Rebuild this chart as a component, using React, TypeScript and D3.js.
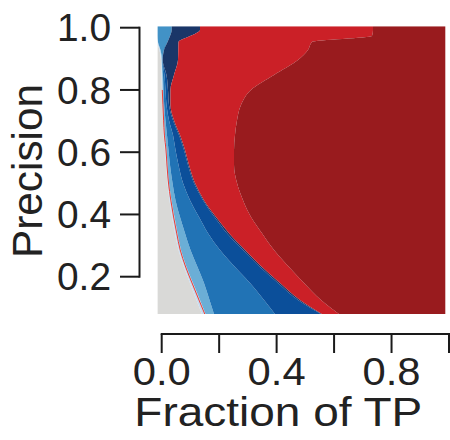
import React from 'react';
import * as d3 from 'd3';

// Precision levels (y) at which the contour boundaries were read
const precision = [1.005, 0.993, 0.973, 0.954, 0.928, 0.896, 0.848, 0.8, 0.752, 0.703, 0.655, 0.607, 0.559, 0.501, 0.446, 0.392, 0.34, 0.286, 0.231, 0.18, 0.125, 0.08];

// Boundary x (fraction of TP) of each filled contour band, left to right
const grayEdge = [-0.015, -0.015, -0.015, -0.015, -0.0077, -0.0024, -0.0007, 0.001, 0.0028, 0.0045, 0.0063, 0.0115, 0.015, 0.0202, 0.0271, 0.0359, 0.0463, 0.0585, 0.0776, 0.0985, 0.1211, 0.1403];
const paleEdge = [-0.015, -0.015, -0.015, -0.0129, -0.0042, 0, 0.0021, 0.0035, 0.0052, 0.008, 0.0115, 0.0167, 0.0202, 0.0254, 0.0341, 0.0446, 0.055, 0.0672, 0.0863, 0.1089, 0.1333, 0.1525];
const lightEdge = [-0.015, -0.015, -0.015, -0.0129, -0.0042, 0.0021, 0.0045, 0.0063, 0.0087, 0.0132, 0.0184, 0.0237, 0.0289, 0.0376, 0.048, 0.0637, 0.0811, 0.1002, 0.1246, 0.1472, 0.1664, 0.182];
const skyEdge = [0.0348, 0.0348, 0.0289, 0.0202, 0.008, 0.0021, 0.0045, 0.0063, 0.0087, 0.0132, 0.0184, 0.0237, 0.0289, 0.0376, 0.048, 0.0637, 0.0811, 0.1002, 0.1246, 0.1472, 0.1664, 0.182];
const mediumEdge = [0.0348, 0.0348, 0.0289, 0.0202, 0.008, 0.0028, 0.0097, 0.0132, 0.0167, 0.0254, 0.0393, 0.048, 0.0585, 0.0741, 0.0985, 0.1298, 0.1612, 0.2029, 0.2551, 0.3073, 0.356, 0.3944];
const darkEdge = [0.0348, 0.0348, 0.0289, 0.0202, 0.008, 0.0035, 0.0167, 0.0219, 0.0254, 0.0393, 0.0602, 0.0776, 0.0915, 0.1124, 0.1438, 0.1838, 0.2273, 0.283, 0.3421, 0.4048, 0.4744, 0.5545];
const navyEdge = [0.1333, 0.1333, 0.0985, 0.0585, 0.0578, 0.0567, 0.0428, 0.0306, 0.0306, 0.0428, 0.0637, 0.0811, 0.095, 0.1159, 0.1472, 0.189, 0.2343, 0.29, 0.3491, 0.4118, 0.4814, 0.558];
const redEdge = [0.7355, 0.7355, 0.732, 0.5231, 0.5092, 0.4744, 0.3909, 0.3108, 0.276, 0.2621, 0.2551, 0.2517, 0.2517, 0.2621, 0.283, 0.3108, 0.3491, 0.3909, 0.4431, 0.4953, 0.5545, 0.6172];

// Thin red contour line
const redLinePrecision = [0.8, 0.752, 0.703, 0.655, 0.607, 0.559, 0.501, 0.446, 0.392, 0.34, 0.286, 0.231, 0.18, 0.125, 0.08];
const redLineFraction = [0.0021, 0.0042, 0.0066, 0.0094, 0.015, 0.0184, 0.0237, 0.0317, 0.0414, 0.0522, 0.0644, 0.0835, 0.1055, 0.1298, 0.15];

const bandColors = ['#d9d9d7', '#c6dbef', '#6baed6', '#4292c6', '#2173b5', '#0b4f9a', '#1a3668', '#cb2027', '#991b1e'];

const xTicks = [0, 0.2, 0.4, 0.6, 0.8, 1.0];
const xTickLabels = ['0.0', '', '0.4', '', '0.8', ''];
const yTicks = [0.2, 0.4, 0.6, 0.8, 1.0];
const yTickLabels = ['0.2', '0.4', '0.6', '0.8', '1.0'];

const X_MIN = -0.015;
const X_MAX = 0.988;
const Y_MIN = 0.08;
const Y_MAX = 1.005;

export default function App() {
  const x = d3.scaleLinear().domain([0, 1]).range([161.7, 449]);
  const y = d3.scaleLinear().domain([0.2, 1]).range([276.7, 27.7]);

  const leftCol = precision.map(() => X_MIN);
  const rightCol = precision.map(() => X_MAX);
  const edges = [leftCol, grayEdge, paleEdge, lightEdge, skyEdge, mediumEdge, darkEdge, navyEdge, redEdge, rightCol];

  const idx = precision.map((_, i) => i);
  const bands = bandColors.map((c, k) => {
    const L = edges[k];
    const R = edges[k + 1];
    const gen = d3
      .area<number>()
      .y((i) => y(precision[i]))
      .x0((i) => x(L[i]))
      .x1((i) => x(R[i]))
      .curve(d3.curveMonotoneY);
    return { color: c, d: gen(idx) || '' };
  });

  const redLine = d3
    .line<number>()
    .x((i) => x(redLineFraction[i]))
    .y((i) => y(redLinePrecision[i]))
    .curve(d3.curveMonotoneY)(redLinePrecision.map((_, i) => i)) || '';

  const px0 = x(X_MIN);
  const px1 = x(X_MAX);
  const py0 = y(Y_MAX);
  const py1 = y(Y_MIN);

  const font = "'Liberation Sans', Arial, Helvetica, sans-serif";
  const axisColor = '#1a1a1a';
  const textColor = '#222';

  return (
    <svg
      width={450}
      height={440}
      style={{ position: 'absolute', left: 0, top: 0, background: '#ffffff' }}
    >
      <defs>
        <clipPath id="plotClip">
          <rect x={px0} y={py0} width={px1 - px0} height={py1 - py0} />
        </clipPath>
      </defs>
      <g clipPath="url(#plotClip)">
        {bands.map((b, i) => (
          <path key={i} d={b.d} fill={b.color} stroke="none" />
        ))}
        <path d={redLine} fill="none" stroke="#ee3b32" strokeWidth={1} />
      </g>

      {/* Y axis */}
      <line x1={139.5} x2={139.5} y1={y(1.0)} y2={y(0.2)} stroke={axisColor} strokeWidth={2} strokeLinecap="square" />
      {yTicks.map((t, i) => (
        <g key={i}>
          <line x1={120} x2={139.5} y1={y(t)} y2={y(t)} stroke={axisColor} strokeWidth={2} />
          <text
            x={111}
            y={y(t) + 13.6}
            textAnchor="end"
            fontFamily={font}
            fontSize={38}
            fill={textColor}
            textLength={54}
            lengthAdjust="spacingAndGlyphs"
          >
            {yTickLabels[i]}
          </text>
        </g>
      ))}
      <text
        transform={`translate(42,171) rotate(-90)`}
        textAnchor="middle"
        fontFamily={font}
        fontSize={42}
        fill={textColor}
        textLength={174}
        lengthAdjust="spacingAndGlyphs"
      >
        Precision
      </text>

      {/* X axis */}
      <line x1={x(0)} x2={x(1)} y1={334} y2={334} stroke={axisColor} strokeWidth={2} strokeLinecap="square" />
      {xTicks.map((t, i) => (
        <g key={i}>
          <line x1={x(t)} x2={x(t)} y1={334} y2={353} stroke={axisColor} strokeWidth={2} />
          {xTickLabels[i] ? (
            <text
              x={x(t)}
              y={385}
              textAnchor="middle"
              fontFamily={font}
              fontSize={38}
              fill={textColor}
              textLength={58}
              lengthAdjust="spacingAndGlyphs"
            >
              {xTickLabels[i]}
            </text>
          ) : null}
        </g>
      ))}
      <text
        x={278.3}
        y={426}
        textAnchor="middle"
        fontFamily={font}
        fontSize={40}
        fill={textColor}
        textLength={288}
        lengthAdjust="spacingAndGlyphs"
      >
        Fraction of TP
      </text>
    </svg>
  );
}
